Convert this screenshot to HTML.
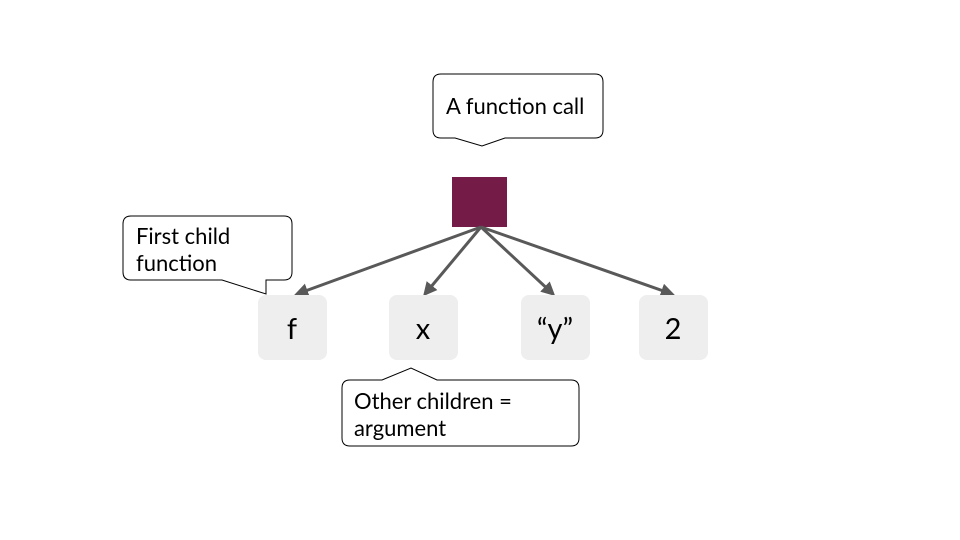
<!DOCTYPE html>
<html><head><style>
html,body{margin:0;padding:0;background:#fff;}
svg{display:block;}
text{font-family:"Lato","Liberation Sans",sans-serif;}
</style></head><body>
<svg width="960" height="540" viewBox="0 0 960 540" xmlns="http://www.w3.org/2000/svg">
<defs>
<marker id="ah" markerWidth="14" markerHeight="14" refX="11" refY="7" orient="auto" markerUnits="userSpaceOnUse" viewBox="0 0 14 14">
<path d="M0,0 L14,7 L0,14 z" fill="#595959"/>
</marker>
</defs>
<path d="M441,74 H595 Q603,74 603,82 V130 Q603,138 595,138 H505 L482,146 L455,138 H441 Q433,138 433,130 V82 Q433,74 441,74 Z" fill="#fff" stroke="#000" stroke-width="1"/>
<text x="446" y="114" font-size="22" fill="#000">A function call</text>
<rect x="452" y="177" width="55" height="50" fill="#741b47"/>
<g stroke="#595959" stroke-width="3" fill="none" marker-end="url(#ah)">
<line x1="481" y1="227" x2="297" y2="294"/>
<line x1="481" y1="227" x2="425" y2="294"/>
<line x1="481" y1="227" x2="553" y2="294"/>
<line x1="481" y1="227" x2="672" y2="294"/>
</g>
<path d="M131,216 H284 Q292,216 292,224 V272 Q292,280 284,280 H266 L266,294 L222,280 H131 Q123,280 123,272 V224 Q123,216 131,216 Z" fill="#fff" stroke="#000" stroke-width="1"/>
<text x="136" y="244" font-size="22" fill="#000">First child</text>
<text x="136" y="271" font-size="22" fill="#000">function</text>
<g fill="#eeeeee">
<rect x="258" y="295" width="69" height="65" rx="8"/>
<rect x="389" y="295" width="69" height="65" rx="8"/>
<rect x="521" y="295" width="69" height="65" rx="8"/>
<rect x="639" y="295" width="69" height="65" rx="8"/>
</g>
<g font-size="29" fill="#000" text-anchor="middle" style="font-family:'Liberation Sans',sans-serif">
<text x="292" y="339">f</text>
<text x="423" y="339">x</text>
<text x="555" y="339">“y”</text>
<text x="673" y="339">2</text>
</g>
<path d="M350,380 H382 L411,368 L437,380 H571 Q579,380 579,388 V438 Q579,446 571,446 H350 Q342,446 342,438 V388 Q342,380 350,380 Z" fill="#fff" stroke="#000" stroke-width="1"/>
<text x="354" y="409" font-size="22" fill="#000">Other children =</text>
<text x="354" y="436" font-size="22" fill="#000">argument</text>
</svg>
</body></html>
